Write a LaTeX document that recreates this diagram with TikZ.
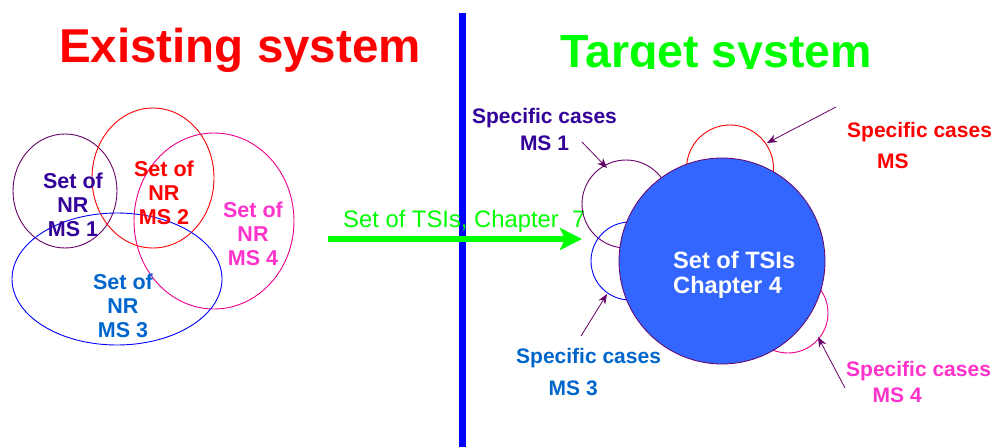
\documentclass[tikz,border=0pt]{standalone}
\usepackage{fontspec}
\setmainfont{Liberation Sans}
\usetikzlibrary{arrows.meta}
\definecolor{indigo}{HTML}{330099}
\definecolor{plum}{HTML}{660066}
\definecolor{pinkms}{HTML}{FF33CC}
\definecolor{bluems}{HTML}{0066CC}
\definecolor{coreblue}{HTML}{3366FF}
\definecolor{tsigreen}{HTML}{00FF00}
\tikzset{
  nrset/.style={align=center, inner sep=0pt, font=\bfseries\fontsize{21.5}{24}\selectfont},
  spec/.style={inner sep=0pt, font=\bfseries\fontsize{21}{24}\selectfont},
  pointer/.style={plum, line width=0.8pt, -{Stealth[length=10pt,width=8pt]}},
}
\begin{document}
\begin{tikzpicture}[x=1pt, y=-1pt]
    \useasboundingbox (0,0) rectangle (995,447);
    % existing system
    \node[red, anchor=base west, inner sep=0pt, font=\bfseries\fontsize{47.5}{50}\selectfont] (existing) at (59,62) {Existing system};
    \draw[plum, line width=0.9pt] (65,191) ellipse [x radius=52pt, y radius=57pt];      % MS 1
    \draw[red, line width=0.9pt] (153,178) ellipse [x radius=61pt, y radius=70pt];      % MS 2
    \draw[magenta, line width=0.9pt] (214,221) ellipse [x radius=80pt, y radius=88pt];  % MS 4
    \draw[blue, line width=0.9pt] (117,279) ellipse [x radius=105pt, y radius=66pt];    % MS 3
    \node[nrset, indigo] (nr1) at (73,205) {Set of\\NR\\MS 1};
    \node[nrset, red] (nr2) at (164,193) {Set of\\NR\\MS 2};
    \node[nrset, pinkms] (nr4) at (253,234) {Set of\\NR\\MS 4};
    \node[nrset, bluems] (nr3) at (123,306) {Set of\\NR\\MS 3};
    % divider
    \draw[blue, line width=7pt] (462.5,13) -- (462.5,447);
    % target system (title cut at the bottom)
    \begin{scope}
      \clip (470,0) rectangle (995,68);
      \node[tsigreen, anchor=base west, inner sep=0pt, font=\bfseries\fontsize{46.5}{50}\selectfont] (target) at (560,67) {Target system};
    \end{scope}
    % migration arrow
    \coordinate (from7) at (328,239);
    \coordinate (to7) at (582,239);
    \draw[tsigreen, line width=6pt, -{Stealth[length=22pt,width=22pt,inset=5pt]}] (from7) -- (to7);
    \node[tsigreen, anchor=base west, inner sep=0pt, font=\fontsize{23.8}{26}\selectfont] (chap7) at (343,227) {Set of TSIs, Chapter\ \ 7};
    % specific cases
    \draw[plum, line width=0.9pt] (626,204) circle [radius=44pt];      % MS 1
    \draw[red, line width=0.9pt] (730,168.5) circle [radius=43.5pt];   % MS
    \draw[blue, line width=0.9pt] (630,261) circle [radius=39pt];      % MS 3
    \draw[magenta, line width=0.9pt] (788,313) circle [radius=40pt];   % MS 4
    \node[circle, fill=coreblue, draw=plum, line width=0.8pt, minimum size=206pt, inner sep=0pt] (core) at (722,261) {};
    \node[white, align=left, anchor=west, inner sep=0pt, font=\bfseries\fontsize{23.6}{25}\selectfont] (tsi) at (673,275) {Set of TSIs\\Chapter 4};
    \node[spec, indigo, align=center] (spec1) at (544.5,129.5) {Specific cases\\[3pt]MS 1};
    \node[spec, red, align=left, anchor=west] (specms) at (847,145.5) {Specific cases\\[7pt]\hspace*{30pt}MS};
    \node[spec, bluems, align=left, anchor=west] (spec3) at (516,372) {Specific cases\\[8pt]\hspace*{32.5pt}MS 3};
    \node[spec, pinkms, align=left, anchor=west] (spec4) at (846,382) {Specific cases\\[2pt]\hspace*{26.5pt}MS 4};
    \coordinate (p1) at (582,142);  \coordinate (q1) at (607,168);
    \coordinate (p2) at (836,107);  \coordinate (q2) at (767,143);
    \coordinate (p3) at (581,336);  \coordinate (q3) at (607,294);
    \coordinate (p4) at (845,388);  \coordinate (q4) at (818,337);
    \draw[pointer] (p1) -- (q1);
    \draw[pointer] (p2) -- (q2);
    \draw[pointer] (p3) -- (q3);
    \draw[pointer] (p4) -- (q4);
\end{tikzpicture}
\end{document}
